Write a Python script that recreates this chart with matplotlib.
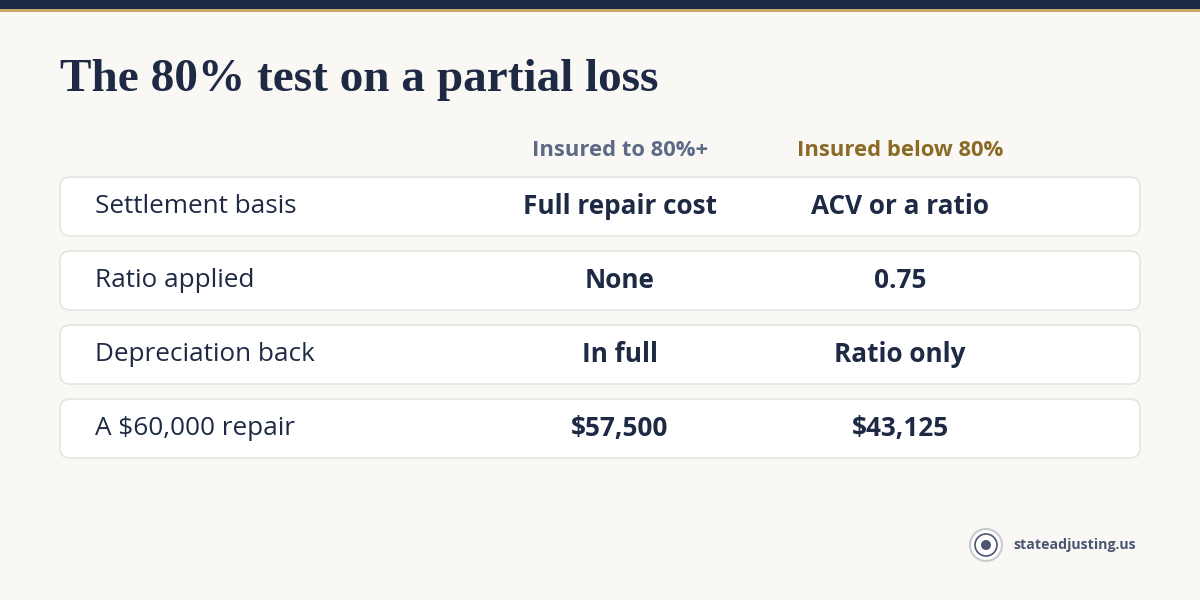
import matplotlib
matplotlib.use("Agg")
import matplotlib.pyplot as plt
from matplotlib.patches import FancyBboxPatch, Rectangle, Circle

title = "The 80% test on a partial loss"
columns = ["Insured to 80%+", "Insured below 80%"]
row_labels = ["Settlement basis", "Ratio applied", "Depreciation back", "A $60,000 repair"]
col_full = ["Full repair cost", "None", "In full", "$57,500"]
col_below = ["ACV or a ratio", "0.75", "Ratio only", "$43,125"]

NAVY = "#1e2a44"
GOLD = "#c9a862"
BG = "#f9f8f5"

fig = plt.figure(figsize=(12, 6), dpi=100, facecolor=BG)
ax = fig.add_axes([0, 0, 1, 1])
ax.set_xlim(0, 1200)
ax.set_ylim(600, 0)
ax.axis("off")

ax.add_patch(Rectangle((0, 0), 1200, 9, color=NAVY, lw=0))
ax.add_patch(Rectangle((0, 9), 1200, 2.5, color=GOLD, lw=0))

ax.text(60, 80, title, fontsize=34, fontweight="bold", family="Liberation Serif",
        color=NAVY, va="center", ha="left")

ax.text(620, 151, columns[0], fontsize=15.8, fontweight="bold", family="Open Sans",
        color="#5d6a85", ha="center", va="center")
ax.text(900, 151, columns[1], fontsize=15.8, fontweight="bold", family="Open Sans",
        color="#8a6a24", ha="center", va="center")

for i, lab in enumerate(row_labels):
    top = 177 + i * 74
    ax.add_patch(FancyBboxPatch((60, top), 1080, 59, boxstyle="round,pad=0,rounding_size=10",
                                fc="white", ec="#e6e4de", lw=1.2))
    cy = top + 29.5
    ax.text(95, cy, lab, fontsize=18.8, family="Open Sans", color=NAVY, va="center")
    ax.text(620, cy, col_full[i], fontsize=18.8, fontweight="bold", family="Open Sans",
            color=NAVY, va="center", ha="center")
    ax.text(900, cy, col_below[i], fontsize=18.8, fontweight="bold", family="Open Sans",
            color=NAVY, va="center", ha="center")

# logo
ax.add_patch(Circle((986, 545), 16, fc="white", ec="#c8cad0", lw=1.5))
ax.add_patch(Circle((986, 545), 11, fc="none", ec="#4b5570", lw=1.2))
ax.add_patch(Circle((986, 545), 5, fc="#4b5570", ec="none"))
ax.text(1013, 545, "stateadjusting.us", fontsize=10.2, fontweight="bold", family="Open Sans",
        color="#4b5570", va="center", ha="left")

fig.savefig("out.png", dpi=100, facecolor=BG)
